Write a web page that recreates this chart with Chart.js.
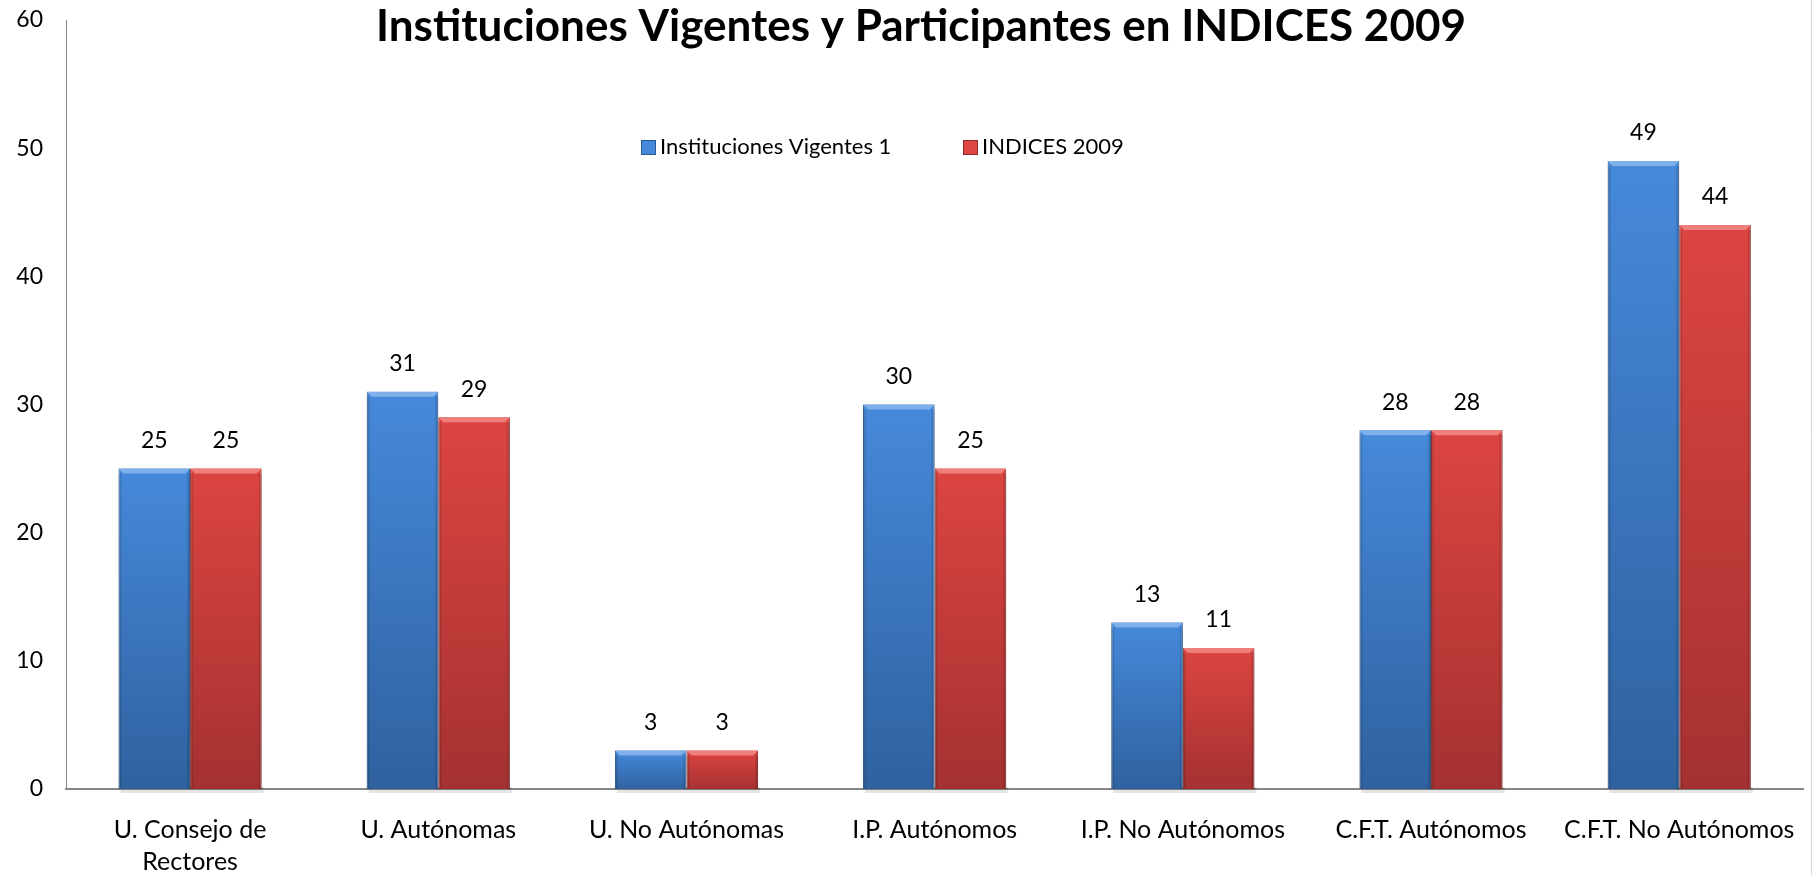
<!DOCTYPE html>
<html lang="es">
<head>
  <meta charset="UTF-8">
  <title>Instituciones Vigentes y Participantes en INDICES 2009</title>
  <script src="https://cdn.jsdelivr.net/npm/chart.js"></script>
  <style>
    body { margin: 0; background: #fff; }
    #grafico { display: block; }
  </style>
</head>
<body>
  <canvas id="grafico" width="1812" height="875"></canvas>

<script>
  // Datos
  const categorias = [['U. Consejo de', 'Rectores'], 'U. Autónomas', 'U. No Autónomas', 'I.P. Autónomos', 'I.P. No Autónomos', 'C.F.T. Autónomos', 'C.F.T. No Autónomos'];
  const vigentes = [25, 31, 3, 30, 13, 28, 49];
  const indices2009 = [25, 29, 3, 25, 11, 28, 44];
  const nombresSeries = ['Instituciones Vigentes 1', 'INDICES 2009'];
  const titulo = 'Instituciones Vigentes y Participantes en INDICES 2009';
  const ticksY = [0, 10, 20, 30, 40, 50, 60];

  const fuente = 'Lato, "Open Sans", sans-serif';

  const colores = [
    { arriba: '#4689da', abajo: '#2f619f', borde: '#2b5a93', luz: '#7fb0ea' },
    { arriba: '#dc4541', abajo: '#a43131', borde: '#8f2a2a', luz: '#ee7f7b' }
  ];

  function degradado(i) {
    return function (ctx) {
      const chart = ctx.chart;
      if (!chart.chartArea || ctx.parsed === undefined) return colores[i].arriba;
      const y = chart.scales.y;
      const top = y.getPixelForValue(ctx.parsed.y);
      const bottom = y.getPixelForValue(0);
      const g = chart.ctx.createLinearGradient(0, top, 0, bottom + 1);
      g.addColorStop(0, colores[i].arriba);
      g.addColorStop(1, colores[i].abajo);
      return g;
    };
  }

  // biseles, etiquetas de valor, titulo y leyenda
  const extras = {
    id: 'extras',
    beforeDatasetsDraw(chart) {
      const c = chart.ctx;
      c.save();
      chart.data.datasets.forEach((ds, i) => {
        chart.getDatasetMeta(i).data.forEach(bar => {
          const w = bar.width;
          c.fillStyle = 'rgba(0,0,0,0.10)';
          c.fillRect(bar.x - w / 2 + 2, bar.base - 2, w, 6);
        });
      });
      c.restore();
    },
    afterDatasetsDraw(chart) {
      const c = chart.ctx;
      c.save();
      chart.data.datasets.forEach((ds, i) => {
        chart.getDatasetMeta(i).data.forEach((bar, j) => {
          const w = bar.width;
          const x0 = bar.x - w / 2, x1 = bar.x + w / 2;
          const t = bar.y, b = bar.base;
          const bev = 5;
          // bisel superior
          c.fillStyle = colores[i].luz;
          c.beginPath();
          c.moveTo(x0, t);
          c.lineTo(x1, t);
          c.lineTo(x1 - bev, t + bev);
          c.lineTo(x0 + bev, t + bev);
          c.closePath();
          c.fill();
          // bordes laterales oscuros
          c.fillStyle = 'rgba(0,0,0,0.12)';
          c.fillRect(x0, t + bev, 3, b - t - bev);
          c.fillRect(x1 - 3, t + bev, 3, b - t - bev);
          // valor
          c.fillStyle = '#000';
          c.font = '23px ' + fuente;
          c.textAlign = 'center';
          c.textBaseline = 'middle';
          c.fillText(ds.data[j], bar.x, t - 28);
        });
      });

      // titulo
      c.font = 'bold 44px ' + fuente;
      c.textAlign = 'center';
      c.textBaseline = 'alphabetic';
      c.fillStyle = '#000';
      c.fillText(titulo, 921, 41);

      // leyenda
      c.font = '22px ' + fuente;
      c.textAlign = 'left';
      c.textBaseline = 'middle';
      const ly = 147;
      let lx = 641;
      chart.data.datasets.forEach((ds, i) => {
        c.fillStyle = colores[i].arriba;
        c.fillRect(lx, ly - 7, 15, 15);
        c.strokeStyle = colores[i].borde;
        c.lineWidth = 1;
        c.strokeRect(lx + 0.5, ly - 6.5, 14, 14);
        c.fillStyle = '#000';
        c.fillText(ds.label, lx + 19, ly);
        lx += 322;
      });

      // borde derecho
      c.strokeStyle = '#d9d9d9';
      c.beginPath();
      c.moveTo(chart.width - 0.5, 0);
      c.lineTo(chart.width - 0.5, chart.height);
      c.stroke();
      c.restore();
    }
  };

  new Chart(document.getElementById('grafico'), {
    type: 'bar',
    data: {
      labels: categorias,
      datasets: [{
        label: nombresSeries[0],
        data: vigentes,
        backgroundColor: degradado(0),
        borderColor: colores[0].borde,
        borderWidth: 1,
        categoryPercentage: 0.577,
        barPercentage: 1
      }, {
        label: nombresSeries[1],
        data: indices2009,
        backgroundColor: degradado(1),
        borderColor: colores[1].borde,
        borderWidth: 1,
        categoryPercentage: 0.577,
        barPercentage: 1
      }]
    },
    options: {
      responsive: false,
      animation: false,
      layout: { padding: { top: 20, right: 8, left: 0, bottom: 0 } },
      plugins: {
        legend: { display: false },
        title: { display: false },
        tooltip: { enabled: false }
      },
      scales: {
        x: {
          grid: { display: false },
          border: { color: '#868686', width: 2 },
          afterFit(axis) { axis.height = 86; },
          ticks: {
            color: '#000',
            font: { family: fuente, size: 25, lineHeight: 1.28 },
            maxRotation: 0,
            autoSkip: false,
            padding: 17
          }
        },
        y: {
          min: ticksY[0],
          max: ticksY[ticksY.length - 1],
          afterBuildTicks(axis) {
            axis.ticks = ticksY.map(v => ({ value: v }));
          },
          afterFit(axis) {
            axis.width = 66;
            axis.paddingTop = 0;
            axis.paddingBottom = 0;
          },
          grid: { display: false },
          border: { color: '#868686', width: 1 },
          ticks: {
            color: '#000',
            font: { family: fuente, size: 23 },
            padding: 15
          }
        }
      }
    },
    plugins: [extras]
  });
</script>
</body>
</html>
